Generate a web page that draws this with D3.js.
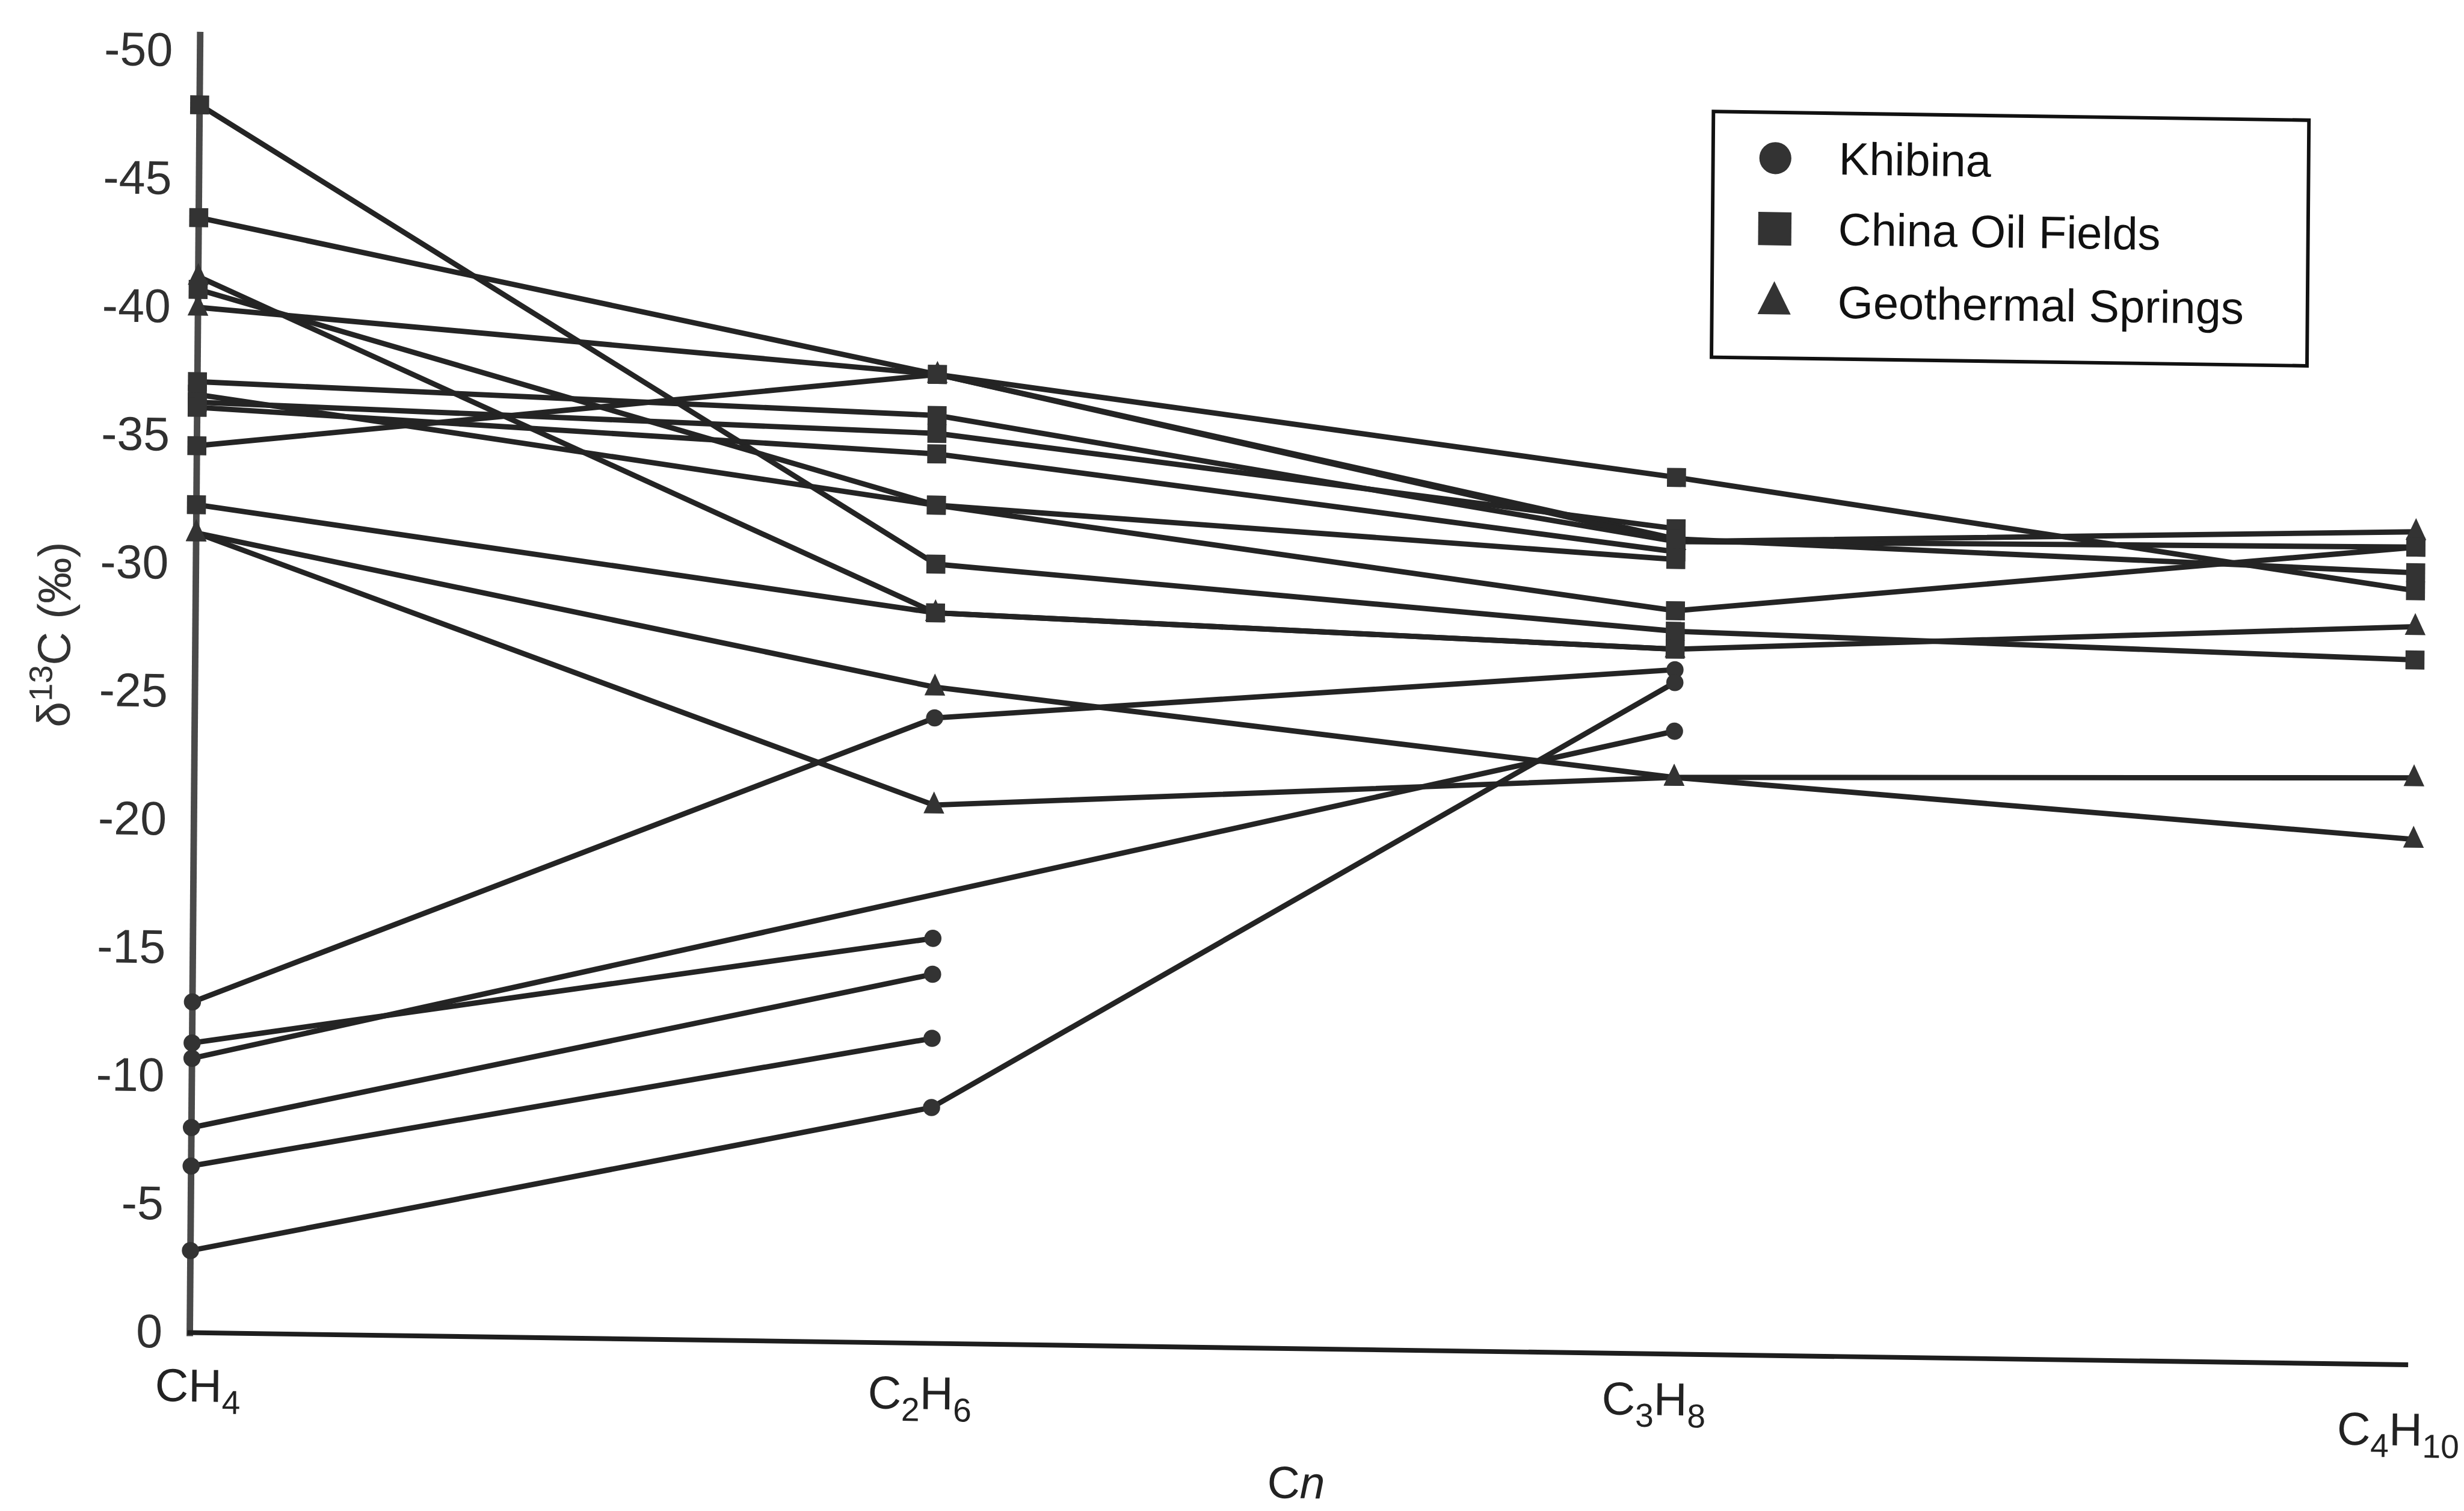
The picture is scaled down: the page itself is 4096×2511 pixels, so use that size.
<!DOCTYPE html>
<html><head><meta charset="utf-8">
<script src="https://cdn.jsdelivr.net/npm/d3@7"></script>
<style>html,body{margin:0;padding:0;background:#fff;overflow:hidden}svg{display:block}</style>
</head><body>
<script>
// ---------------- data ----------------
const categories = ["CH4", "C2H6", "C3H8", "C4H10"];
const yTicks = [0, -5, -10, -15, -20, -25, -30, -35, -40, -45, -50];
const legendLabels = ["Khibina", "China Oil Fields", "Geothermal Springs"];

// δ13C (‰) per sample, in category order (null = not measured)
const khibina = [
  [-12.9, -24.4, -26.7, null],
  [-10.7, null, -24.3, null],
  [-11.3, -15.8, null, null],
  [-8.0, -14.4, null, null],
  [-6.5, -11.9, null, null],
  [-3.2, -9.2, -26.2, null]
];
const chinaOilFields = [
  [-47.9, -30.4, -28.2, -27.5],
  [-43.5, -37.8, -34.2, -30.2],
  [-40.7, -32.7, -29.0, -31.9],
  [-37.1, -36.2, -31.7, -31.9],
  [-36.6, -32.7, -31.0, null],
  [-36.3, -35.5, -32.2, null],
  [-36.1, -34.7, -31.3, null],
  [-34.6, -37.8, -31.8, -30.9],
  [-32.3, -28.5, -27.5, null]
];
const geothermalSprings = [
  [-40.0, -37.8, -31.7, -32.5],
  [-41.2, -28.5, -27.5, -28.8],
  [-31.2, -25.6, -22.5, -20.5],
  [-31.2, -21.0, -22.5, -22.9]
];

// ---------------- layout ----------------
const W = 4096, H = 2511, S = 0.986;
const INK = "#242424";
const catLabelDx = [14, -16, -26, -18];
const catLabelDy = [116, 111, 103, 136];

const svg = d3.select("body").append("svg").attr("width", W).attr("height", H);
svg.append("rect").attr("width", W).attr("height", H).attr("fill", "#fff");
const root = svg.append("g").attr("transform", `scale(${S})`);
// slight tilt of the scanned figure
const g = root.append("g").attr("transform", "matrix(1,0.0145,-0.008,1,320,2246)");

const x = d3.scalePoint().domain(categories).range([0, 3742]);
const y = d3.scaleLinear().domain([0, -50]).range([0, -2160]);

const FONT = "'Liberation Sans', Arial, Helvetica, sans-serif";

// axes
g.append("line").attr("x1", 0).attr("x2", 0).attr("y1", 6).attr("y2", y(-50.75))
  .attr("stroke", "#4a4a4a").attr("stroke-width", 11);
g.append("line").attr("x1", -4).attr("x2", 3740).attr("y1", y(0)).attr("y2", y(0))
  .attr("stroke", "#1e1e1e").attr("stroke-width", 8);

const yAxis = d3.axisLeft(y).tickValues(yTicks).tickSize(0).tickPadding(46).tickFormat(d => d === 0 ? "0" : "-" + Math.abs(d));
const ya = g.append("g").call(yAxis);
ya.select(".domain").remove();
ya.selectAll("text").attr("font-family", FONT).attr("font-size", 80).attr("fill", "#303030");

// category labels with subscripts
categories.forEach((c, i) => {
  const t = g.append("text").attr("x", x(c) + catLabelDx[i]).attr("y", catLabelDy[i])
    .attr("text-anchor", "middle").attr("font-family", FONT).attr("font-size", 78).attr("fill", "#222");
  c.split(/(\d+)/).filter(p => p.length).forEach(p => {
    if (/^\d+$/.test(p)) {
      t.append("tspan").attr("font-size", 56).attr("dy", 20).text(p);
    } else {
      const ts = t.append("tspan").text(p);
      if (t.selectAll("tspan").size() > 1) ts.attr("dy", -20);
    }
  });
});

// axis titles
const xt = g.append("text").attr("x", 1867).attr("y", 252).attr("text-anchor", "middle")
  .attr("font-family", FONT).attr("font-size", 76).attr("fill", "#222");
xt.append("tspan").text("C");
xt.append("tspan").attr("font-style", "italic").text("n");

const yt = g.append("text").attr("transform", "translate(-211,-1173) rotate(-90)")
  .attr("text-anchor", "middle").attr("font-family", FONT).attr("font-size", 78).attr("fill", "#333");
yt.append("tspan").text("δ");
yt.append("tspan").attr("font-size", 55).attr("dy", -30).text("13");
yt.append("tspan").attr("dy", 30).text("C (‰)");

// lines
const line = d3.line().x(d => x(categories[d.i])).y(d => y(d.v));
const pts = row => row.map((v, i) => ({ i, v })).filter(d => d.v !== null);
const allSeries = [
  ...khibina.map(r => ({ type: "circle", pts: pts(r) })),
  ...chinaOilFields.map(r => ({ type: "square", pts: pts(r) })),
  ...geothermalSprings.map(r => ({ type: "triangle", pts: pts(r) }))
];
g.append("g").selectAll("path").data(allSeries).join("path")
  .attr("d", s => line(s.pts)).attr("fill", "none").attr("stroke", INK)
  .attr("stroke-width", 9).attr("stroke-linejoin", "round");

// markers
const tri = (w, h) => `M0,${-h * 0.62}L${w / 2},${h * 0.38}L${-w / 2},${h * 0.38}Z`;
const shapePath = type => {
  if (type === "circle") return d3.symbol(d3.symbolCircle, 660)();
  if (type === "square") return d3.symbol(d3.symbolSquare, 1024)();
  return tri(35, 37);
};
["circle", "triangle", "square"].forEach(type => {
  const data = allSeries.filter(s => s.type === type).flatMap(s => s.pts);
  g.append("g").selectAll("path").data(data).join("path")
    .attr("transform", d => `translate(${x(categories[d.i])},${y(d.v)})`)
    .attr("d", shapePath(type)).attr("fill", "#333");
});

// legend
const lg = g.append("g");
lg.append("rect").attr("x", 2552).attr("y", -2095).attr("width", 1004).attr("height", 414)
  .attr("fill", "#fff").attr("stroke", "#111").attr("stroke-width", 6);
const legendTypes = ["circle", "square", "triangle"];
const legendY = [-2018, -1899, -1776];
legendLabels.forEach((lab, i) => {
  const p = lg.append("path").attr("transform", `translate(2657,${legendY[i]})`).attr("fill", "#333");
  if (legendTypes[i] === "circle") p.attr("d", d3.symbol(d3.symbolCircle, Math.PI * 27 * 27)());
  else if (legendTypes[i] === "square") p.attr("d", d3.symbol(d3.symbolSquare, 56 * 56)());
  else p.attr("d", tri(56, 56));
  lg.append("text").attr("x", 2764).attr("y", legendY[i] + 26).attr("font-family", FONT)
    .attr("font-size", 77).attr("fill", "#111").text(lab);
});
</script>
</body></html>
